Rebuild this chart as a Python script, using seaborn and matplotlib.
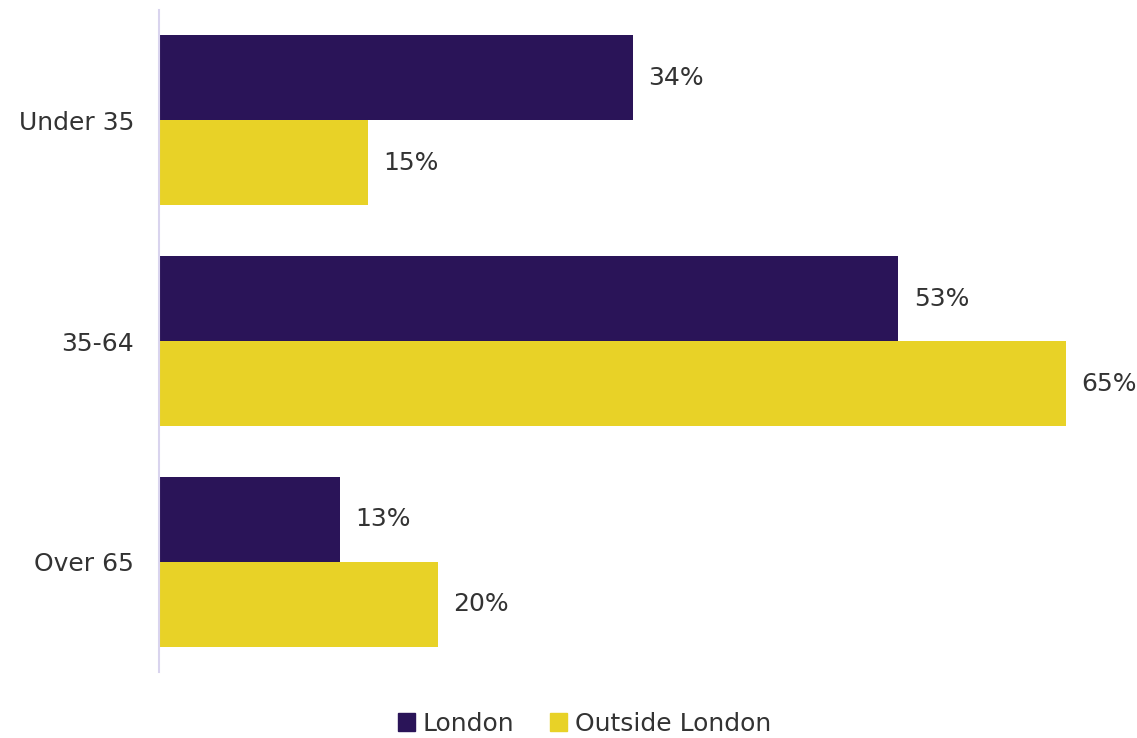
import matplotlib.pyplot as plt
import pandas as pd
import seaborn as sns

plt.switch_backend("Agg")

age_groups = ["Under 35", "35-64", "Over 65"]
series_names = ["London", "Outside London"]
london = [34, 53, 13]
outside_london = [15, 65, 20]
colors = ["#2a1458", "#e8d227"]


def main() -> None:
    df = pd.DataFrame({
        "Age": age_groups * 2,
        "Region": [series_names[0]] * 3 + [series_names[1]] * 3,
        "Share": london + outside_london,
    })

    sns.set_style("white")
    plt.rcParams["font.family"] = ["DejaVu Sans"]
    text_color = "#333333"

    fig = plt.figure(figsize=(11.37, 7.38), dpi=100)
    ax = fig.add_axes([0.1398, 0.0894, 0.8405, 0.897])

    sns.barplot(data=df, y="Age", x="Share", hue="Region", order=age_groups,
                hue_order=series_names, palette=colors, width=0.77,
                orient="h", saturation=1, ax=ax, legend=False, linewidth=0)

    for container in ax.containers:
        ax.bar_label(container, labels=[f"{v:.0f}%" for v in container.datavalues],
                     padding=11, fontsize=18, color=text_color)

    ax.set_xlim(0, 68.5)
    ax.set_ylim(2.5, -0.5)
    ax.set_xlabel("")
    ax.set_ylabel("")
    ax.set_xticks([])
    ax.tick_params(axis="y", length=0, pad=18, labelsize=18, labelcolor=text_color)
    for side in ["top", "right", "bottom"]:
        ax.spines[side].set_visible(False)
    ax.spines["left"].set_color("#d9d4ee")
    ax.spines["left"].set_linewidth(1.5)

    handles = [plt.Rectangle((0, 0), 1, 1, color=c) for c in colors]
    fig.legend(handles, series_names, loc="center", bbox_to_anchor=(0.514, 0.019),
               ncol=2, frameon=False, fontsize=18, handlelength=0.7,
               handleheight=0.7, handletextpad=0.3, columnspacing=1.4,
               labelcolor=text_color)

    fig.savefig("out.png", dpi=100)
    plt.close(fig)


if __name__ == "__main__":
    main()
